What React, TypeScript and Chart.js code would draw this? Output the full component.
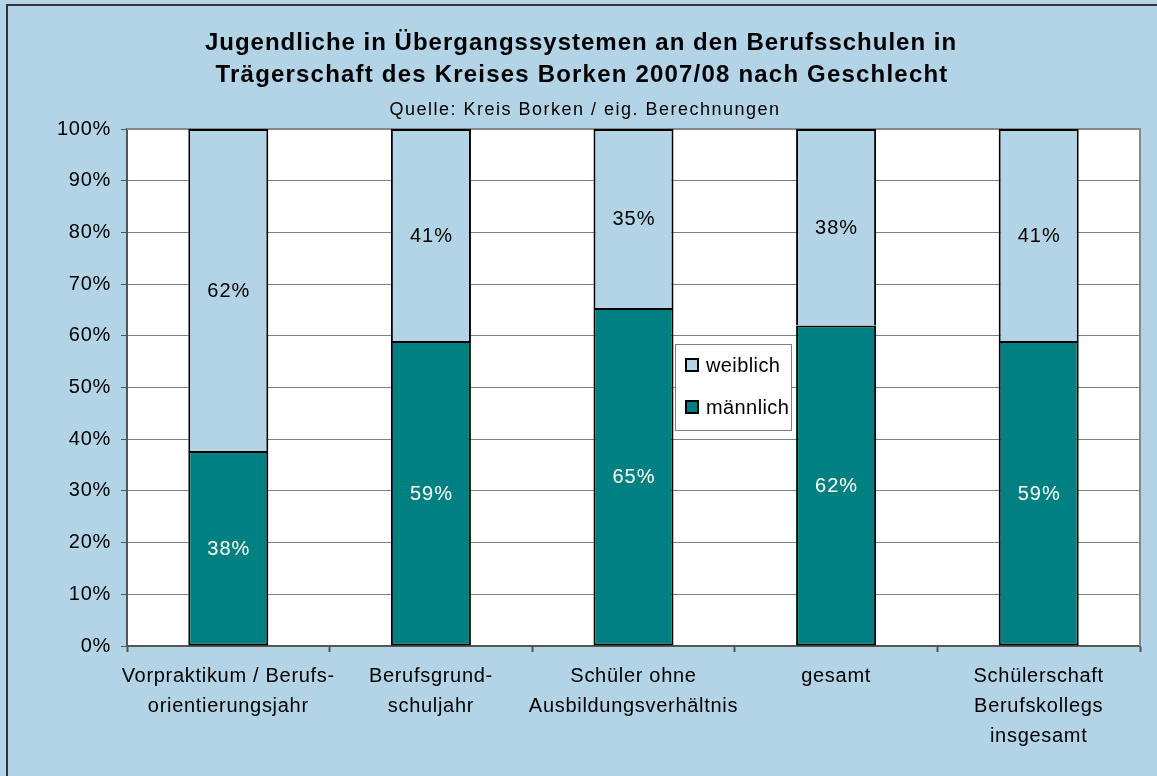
import React, { useEffect, useRef } from "react";
import { Chart, registerables } from "chart.js";

Chart.register(...registerables);

const categories: string[][] = [
  ["Vorpraktikum / Berufs-", "orientierungsjahr"],
  ["Berufsgrund-", "schuljahr"],
  ["Schüler ohne", "Ausbildungsverhältnis"],
  ["gesamt"],
  ["Schülerschaft", "Berufskollegs", "insgesamt"],
];
const maleValues = [37.7, 59.0, 65.4, 62.0, 59.0];
const femaleValues = [62.3, 41.0, 34.6, 38.0, 41.0];
const maleLabels = ["38%", "59%", "65%", "62%", "59%"];
const femaleLabels = ["62%", "41%", "35%", "38%", "41%"];
const titleLines = [
  "Jugendliche in Übergangssystemen an den Berufsschulen in",
  "Trägerschaft des Kreises Borken 2007/08 nach Geschlecht",
];
const subtitle = "Quelle: Kreis Borken / eig. Berechnungen";
const seriesNames = ["männlich", "weiblich"];

const BG = "rgb(179,211,230)";
const TEAL = "#008080";
const FONT = "'Liberation Sans', Arial, sans-serif";

const decorPlugin = {
  id: "decor",
  beforeDraw(chart: any) {
    const { ctx, chartArea: a, width, height } = chart;
    ctx.save();
    ctx.fillStyle = BG;
    ctx.fillRect(0, 0, width, height);
    ctx.fillStyle = "#ffffff";
    ctx.fillRect(a.left, a.top, a.right - a.left, a.bottom - a.top);
    // outer frame
    ctx.strokeStyle = "#333333";
    ctx.lineWidth = 2;
    ctx.beginPath();
    ctx.moveTo(7, height + 5);
    ctx.lineTo(7, 5);
    ctx.lineTo(width + 5, 5);
    ctx.stroke();
    // titles
    ctx.fillStyle = "#000000";
    ctx.textAlign = "center";
    ctx.textBaseline = "alphabetic";
    ctx.font = `bold 24px ${FONT}`;
    (ctx as any).letterSpacing = "1px";
    ctx.fillText(titleLines[0], 581, 50);
    (ctx as any).letterSpacing = "1.2px";
    ctx.fillText(titleLines[1], 582, 82);
    ctx.font = `18px ${FONT}`;
    (ctx as any).letterSpacing = "1.5px";
    ctx.fillText(subtitle, 585, 115);
    ctx.restore();
    // slightly widened text for axes and labels (persists for later drawing)
    (ctx as any).letterSpacing = "0.7px";
  },
  beforeDatasetsDraw(chart: any) {
    const { ctx, chartArea: a } = chart;
    ctx.save();
    ctx.strokeStyle = "#888888";
    ctx.lineWidth = 2;
    ctx.beginPath();
    ctx.moveTo(a.left, a.top);
    ctx.lineTo(a.right, a.top);
    ctx.lineTo(a.right, a.bottom);
    ctx.stroke();
    ctx.restore();
  },
  afterDatasetsDraw(chart: any) {
    const { ctx } = chart;
    ctx.save();
    (ctx as any).letterSpacing = "1px";
    ctx.font = `20px ${FONT}`;
    ctx.textAlign = "center";
    ctx.textBaseline = "middle";
    const labelSets = [maleLabels, femaleLabels];
    const colors = ["#ffffff", "#000000"];
    for (let d = 0; d < 2; d++) {
      const meta = chart.getDatasetMeta(d);
      meta.data.forEach((bar: any, i: number) => {
        const cy = (bar.y + bar.base) / 2;
        ctx.fillStyle = colors[d];
        ctx.fillText(labelSets[d][i], bar.x + 0.5, cy + 1);
      });
    }
    // legend
    const a = chart.chartArea;
    const lx = a.left + 548;
    const ly = a.top + 215;
    const lw = 116;
    const lh = 86;
    ctx.fillStyle = "#ffffff";
    ctx.fillRect(lx, ly, lw, lh);
    ctx.strokeStyle = "#808080";
    ctx.lineWidth = 1;
    ctx.strokeRect(lx + 0.5, ly + 0.5, lw, lh);
    const items = [
      { name: seriesNames[1], color: BG, y: ly + 21 },
      { name: seriesNames[0], color: TEAL, y: ly + 63 },
    ];
    ctx.textAlign = "left";
    ctx.textBaseline = "middle";
    ctx.font = `20px ${FONT}`;
    (ctx as any).letterSpacing = "0.4px";
    items.forEach((it) => {
      ctx.fillStyle = it.color;
      ctx.fillRect(lx + 11, it.y - 6, 12, 12);
      ctx.strokeStyle = "#000000";
      ctx.lineWidth = 2;
      ctx.strokeRect(lx + 11, it.y - 6, 12, 12);
      ctx.fillStyle = "#000000";
      ctx.fillText(it.name, lx + 31, it.y + 1);
    });
    ctx.restore();
  },
};

export default function App() {
  const ref = useRef<HTMLCanvasElement | null>(null);
  useEffect(() => {
    if (!ref.current) return;
    const chart = new Chart(ref.current, {
      type: "bar",
      data: {
        labels: categories,
        datasets: [
          {
            label: seriesNames[0],
            data: maleValues,
            backgroundColor: TEAL,
            borderColor: "#000000",
            borderWidth: { left: 2, right: 2, bottom: 2, top: 2 },
            borderSkipped: false,
            barPercentage: 0.395,
            categoryPercentage: 1,
          },
          {
            label: seriesNames[1],
            data: femaleValues,
            backgroundColor: BG,
            borderColor: "#000000",
            borderWidth: { left: 2, right: 2, bottom: 0, top: 2 },
            borderSkipped: false,
            barPercentage: 0.395,
            categoryPercentage: 1,
          },
        ],
      },
      options: {
        responsive: false,
        animation: false,
        layout: { padding: { top: 129, right: 17, left: 0, bottom: 0 } },
        plugins: {
          legend: { display: false },
          title: { display: false },
          tooltip: { enabled: false },
        },
        scales: {
          x: {
            stacked: true,
            afterFit: (s: any) => {
              s.height = 130;
            },
            grid: {
              display: true,
              drawOnChartArea: false,
              offset: true,
              tickLength: 6,
              tickColor: "#555555",
              tickWidth: 2,
            },
            border: { color: "#555555", width: 2 },
            ticks: {
              color: "#000000",
              font: { family: FONT, size: 20, lineHeight: 1.5 },
              padding: 9,
              maxRotation: 0,
              autoSkip: false,
            },
          },
          y: {
            stacked: true,
            min: 0,
            max: 100,
            afterFit: (s: any) => {
              s.width = 127;
            },
            grid: {
              color: "#808080",
              lineWidth: 1,
              tickLength: 6,
              tickColor: "#555555",
            },
            border: { color: "#555555", width: 2 },
            ticks: {
              stepSize: 10,
              color: "#000000",
              font: { family: FONT, size: 20 },
              padding: 10,
              callback: (v: any) => `${v}%`,
            },
          },
        },
      },
      plugins: [decorPlugin],
    } as any);
    return () => chart.destroy();
  }, []);
  return (
    <div
      style={{
        position: "fixed",
        left: 0,
        top: 0,
        width: 1157,
        height: 776,
        overflow: "hidden",
      }}
    >
      <canvas ref={ref} width={1157} height={776} style={{ display: "block" }} />
    </div>
  );
}
